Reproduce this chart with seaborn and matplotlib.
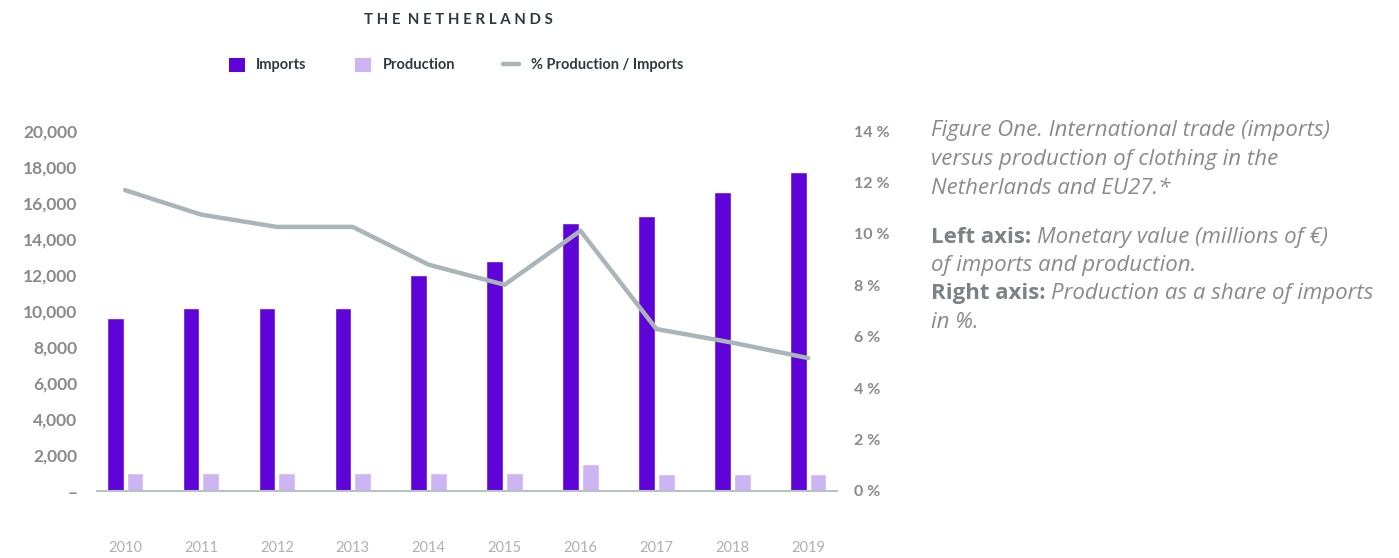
import numpy as np
import pandas as pd
import matplotlib
matplotlib.use("Agg")
import matplotlib.pyplot as plt
import seaborn as sns
from matplotlib.patches import Patch
from matplotlib.lines import Line2D
from matplotlib.ticker import FuncFormatter, MultipleLocator

# ---- data ----
years = [str(y) for y in range(2010, 2020)]
imports = [9600, 10150, 10150, 10150, 12000, 12780, 14880, 15280, 16600, 17720]
production = [1000, 1000, 1000, 1000, 1000, 1000, 1500, 940, 940, 940]
share_pct = [11.7, 10.75, 10.27, 10.27, 8.8, 8.02, 10.12, 6.3, 5.77, 5.17]
series_names = ["Imports", "Production"]
line_name = "% Production / Imports"

C_IMP = "#5f04d9"
C_PROD = "#cdb4f2"
C_LINE = "#a9b5b8"
C_TICK = "#8a8a8a"
C_DARK = "#2f3a40"

df = pd.DataFrame({
    "year": years * 2,
    "value": imports + production,
    "series": [series_names[0]] * len(years) + [series_names[1]] * len(years),
})

sns.set_theme(style="white")
plt.rcParams["font.family"] = ["Lato", "DejaVu Sans"]

fig = plt.figure(figsize=(13.99, 5.58), dpi=100)
ax = fig.add_axes([97 / 1399, 67 / 558, (837 - 97) / 1399, (491 - 131) / 558])

sns.barplot(data=df, x="year", y="value", hue="series",
            palette=[C_IMP, C_PROD], width=0.52, gap=0.15,
            saturation=1, ax=ax, legend=False)
ax.set_xlim(-0.37, 9.38)
ax.set_ylim(0, 20000)
ax.yaxis.set_major_locator(MultipleLocator(2000))
ax.yaxis.set_major_formatter(FuncFormatter(lambda v, p: "–" if v == 0 else f"{v:,.0f}"))
ax.set_xlabel("")
ax.set_ylabel("")
for s in ["top", "right", "left"]:
    ax.spines[s].set_visible(False)
ax.spines["bottom"].set_color("#b7c2c5")
ax.spines["bottom"].set_linewidth(1.5)
ax.tick_params(axis="y", length=0, pad=14, labelsize=12.5, labelcolor=C_TICK)
ax.tick_params(axis="x", length=0, pad=36, labelsize=10.5, labelcolor="#b0b0b0")
for t in ax.get_yticklabels():
    t.set_fontweight("bold")

ax2 = ax.twinx()
sns.lineplot(x=np.arange(len(years)), y=share_pct, color=C_LINE, lw=3.2, ax=ax2)
ax2.set_ylim(0, 14)
ax2.yaxis.set_major_locator(MultipleLocator(2))
ax2.yaxis.set_major_formatter(FuncFormatter(lambda v, p: f"{v:.0f} %"))
for s in ["top", "right", "left", "bottom"]:
    ax2.spines[s].set_visible(False)
ax2.tick_params(axis="y", length=0, pad=12, labelsize=11.5, labelcolor=C_TICK)
for t in ax2.get_yticklabels():
    t.set_fontweight("bold")
ax2.set_ylabel("")
ax.grid(False)
ax2.grid(False)

# ---- title ----
fig.text(458 / 1399, 1 - 20 / 558, "T H E  N E T H E R L A N D S",
         ha="center", va="center", fontsize=10.8, fontweight="bold", color=C_DARK)

# ---- legend ----
handles = [Patch(facecolor=C_IMP, edgecolor="none"),
           Patch(facecolor=C_PROD, edgecolor="none"),
           Line2D([0], [0], color=C_LINE, lw=3.2)]
leg = fig.legend(handles, series_names + [line_name], loc="center",
                 bbox_to_anchor=(456 / 1399, 1 - 65 / 558), ncol=3, frameon=False,
                 fontsize=10.5, handlelength=1.1, handleheight=1.1, handletextpad=0.8,
                 columnspacing=3.3)
for t in leg.get_texts():
    t.set_fontweight("bold")
    t.set_color(C_DARK)

# ---- caption ----
cap_font = ["Open Sans", "DejaVu Sans"]
C_CAP = "#8a8a8a"
x0 = 931 / 1399
fs = 16
plain_lines = [
    (131, None, "Figure One. International trade (imports)"),
    (160, None, "versus production of clothing in the"),
    (189, None, "Netherlands and EU27.*"),
    (237, "Left axis:", "Monetary value (millions of €)"),
    (266, None, "of imports and production."),
    (294, "Right axis:", "Production as a share of imports"),
    (323, None, "in %."),
]
fig.canvas.draw()
r = fig.canvas.get_renderer()
for ypx, bold, rest in plain_lines:
    y = 1 - ypx / 558
    x = x0
    if bold:
        tb = fig.text(x, y, bold + " ", ha="left", va="center", fontsize=fs,
                      fontweight="bold", color="#7c8285", family=cap_font)
        bb = tb.get_window_extent(renderer=r)
        x = x + bb.width / (1399)
    fig.text(x, y, rest, ha="left", va="center", fontsize=fs, style="italic",
             color=C_CAP, family=cap_font)

fig.savefig("out.png", dpi=100)
